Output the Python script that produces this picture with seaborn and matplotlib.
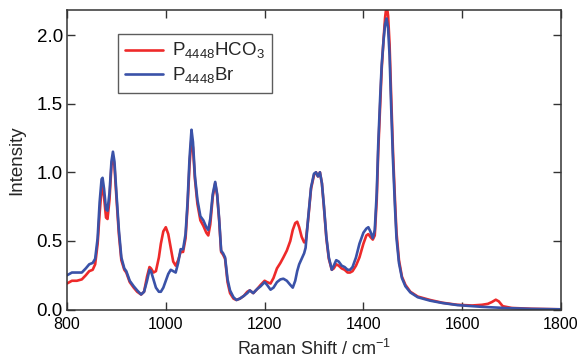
import numpy as np
import pandas as pd
import matplotlib
matplotlib.use("Agg")
import matplotlib.pyplot as plt
import seaborn as sns

# ---- data ----
wavenumber = [800, 810, 820, 830, 838, 845, 852, 857, 862, 866, 870, 872, 875, 879, 882, 886, 890, 893, 896,
              900, 905, 910, 916, 920, 927, 935, 942, 950, 956, 962, 967, 970, 975, 980, 986, 990, 995,
              1000, 1005, 1010, 1015, 1020, 1025, 1030, 1035, 1040, 1044, 1048, 1052, 1055, 1059, 1064, 1070,
              1076, 1082, 1086, 1090, 1095, 1100, 1104, 1108, 1112, 1116, 1120, 1125, 1130, 1137, 1143, 1150,
              1158, 1165, 1170, 1177, 1185, 1192, 1200, 1205, 1212, 1218, 1225, 1232, 1238, 1245, 1252, 1257,
              1262, 1266, 1270, 1275, 1280, 1283, 1288, 1294, 1300, 1304, 1308, 1312, 1316, 1320, 1325, 1330,
              1336, 1340, 1345, 1350, 1356, 1362, 1368, 1373, 1378, 1385, 1392, 1400, 1406, 1410, 1414, 1419,
              1423, 1427, 1430, 1434, 1437, 1441, 1444, 1447, 1450, 1453, 1456, 1460, 1464, 1467, 1472, 1478,
              1485, 1495, 1510, 1535, 1560, 1590, 1620, 1640, 1652, 1660, 1668, 1674, 1682, 1700, 1740, 1800]

hco3 = [0.19, 0.21, 0.21, 0.22, 0.25, 0.28, 0.29, 0.33, 0.48, 0.70, 0.88, 0.90, 0.82, 0.67, 0.66, 0.80, 1.05, 1.11, 1.05,
        0.82, 0.55, 0.36, 0.29, 0.27, 0.20, 0.16, 0.13, 0.11, 0.13, 0.24, 0.31, 0.30, 0.27, 0.28, 0.38, 0.48, 0.57,
        0.60, 0.55, 0.45, 0.35, 0.32, 0.36, 0.42, 0.42, 0.52, 0.75, 1.05, 1.25, 1.18, 0.95, 0.77, 0.65,
        0.61, 0.56, 0.54, 0.62, 0.82, 0.92, 0.83, 0.65, 0.42, 0.40, 0.37, 0.20, 0.12, 0.08, 0.07, 0.08,
        0.10, 0.13, 0.14, 0.12, 0.15, 0.18, 0.21, 0.20, 0.19, 0.23, 0.30, 0.34, 0.38, 0.43, 0.50, 0.58,
        0.63, 0.64, 0.60, 0.53, 0.49, 0.49, 0.65, 0.88, 0.98, 1.00, 0.97, 1.00, 0.92, 0.75, 0.52, 0.37,
        0.29, 0.30, 0.33, 0.32, 0.30, 0.29, 0.27, 0.27, 0.28, 0.32, 0.38, 0.48, 0.54, 0.55, 0.53, 0.51,
        0.54, 0.80, 1.15, 1.50, 1.75, 1.98, 2.13, 2.22, 2.14, 1.93, 1.58, 1.14, 0.79, 0.56, 0.36, 0.24,
        0.18, 0.13, 0.095, 0.07, 0.05, 0.035, 0.03, 0.035, 0.042, 0.055, 0.072, 0.06, 0.025, 0.012, 0.006, 0.002]

br = [0.25, 0.27, 0.27, 0.27, 0.30, 0.33, 0.34, 0.37, 0.52, 0.78, 0.95, 0.96, 0.88, 0.73, 0.72, 0.85, 1.08, 1.15, 1.08,
      0.85, 0.58, 0.38, 0.30, 0.28, 0.21, 0.17, 0.14, 0.11, 0.13, 0.21, 0.29, 0.28, 0.22, 0.16, 0.13, 0.13, 0.16,
      0.21, 0.26, 0.29, 0.28, 0.27, 0.34, 0.44, 0.44, 0.55, 0.78, 1.10, 1.31, 1.22, 0.97, 0.80, 0.68,
      0.65, 0.60, 0.58, 0.66, 0.84, 0.93, 0.84, 0.66, 0.43, 0.41, 0.38, 0.22, 0.14, 0.09, 0.07, 0.08,
      0.10, 0.12, 0.14, 0.12, 0.15, 0.17, 0.20, 0.18, 0.145, 0.16, 0.20, 0.22, 0.225, 0.21, 0.18, 0.16,
      0.21, 0.28, 0.33, 0.37, 0.41, 0.45, 0.66, 0.89, 0.99, 1.00, 0.97, 1.00, 0.92, 0.76, 0.53, 0.38,
      0.29, 0.32, 0.36, 0.35, 0.32, 0.31, 0.29, 0.29, 0.31, 0.38, 0.48, 0.56, 0.59, 0.60, 0.57, 0.52,
      0.58, 0.85, 1.20, 1.55, 1.78, 1.97, 2.08, 2.12, 2.05, 1.85, 1.50, 1.08, 0.74, 0.52, 0.34, 0.23,
      0.17, 0.125, 0.09, 0.065, 0.048, 0.033, 0.025, 0.02, 0.018, 0.016, 0.015, 0.014, 0.012, 0.01, 0.005, 0.002]

labels = [r"P$_{\mathregular{4448}}$HCO$_{\mathregular{3}}$", r"P$_{\mathregular{4448}}$Br"]
colors = ["#EE2A2A", "#3A52A8"]
x_ticks = [800, 1000, 1200, 1400, 1600, 1800]
y_ticks = [0.0, 0.5, 1.0, 1.5, 2.0]

df = pd.DataFrame({
    "w": wavenumber * 2,
    "I": hco3 + br,
    "s": [labels[0]] * len(wavenumber) + [labels[1]] * len(wavenumber),
})

sns.set_theme(style="ticks")
plt.rcParams["font.family"] = ["Liberation Sans", "DejaVu Sans"]
plt.rcParams["mathtext.fontset"] = "custom"
plt.rcParams["mathtext.rm"] = "Liberation Sans"

fig = plt.figure(figsize=(5.79, 3.6), dpi=100)
ax = fig.add_axes([67 / 579, 1 - 309.6 / 360, (561 - 67) / 579, (309.6 - 10.3) / 360])

sns.lineplot(data=df, x="w", y="I", hue="s", hue_order=labels, palette=colors,
             linewidth=1.9, ax=ax, sort=False, estimator=None)

ax.set_xlim(800, 1800)
ax.set_ylim(0, 2.18)
ax.set_xticks(x_ticks)
ax.set_xticklabels([str(t) for t in x_ticks])
ax.set_yticks(y_ticks)
ax.set_yticklabels([f"{t:.1f}" for t in y_ticks])
ax.tick_params(direction="in", length=5.5, width=1, colors="#333333", labelcolor="black",
               top=True, right=True)
ax.tick_params(axis="x", labelsize=11.5, pad=5.5)
ax.tick_params(axis="y", labelsize=13.5, pad=3)
for sp in ax.spines.values():
    sp.set_visible(True)
    sp.set_color("#333333")
    sp.set_linewidth(1.1)

ax.set_xlabel(r"Raman Shift / cm$^{\mathregular{-1}}$", fontsize=13, labelpad=4.5)
ax.set_ylabel("Intensity", fontsize=13.5, labelpad=8)

leg = ax.legend(loc="upper left", bbox_to_anchor=(0.103, 0.921), borderaxespad=0,
                fontsize=13.5, frameon=True, fancybox=False, edgecolor="#333333",
                handlelength=2.0, handletextpad=0.5, labelspacing=0.25, borderpad=0.38, title=None)
leg.get_frame().set_linewidth(1.0)
for line in leg.get_lines():
    line.set_linewidth(1.9)

fig.savefig("out.png", dpi=100)
